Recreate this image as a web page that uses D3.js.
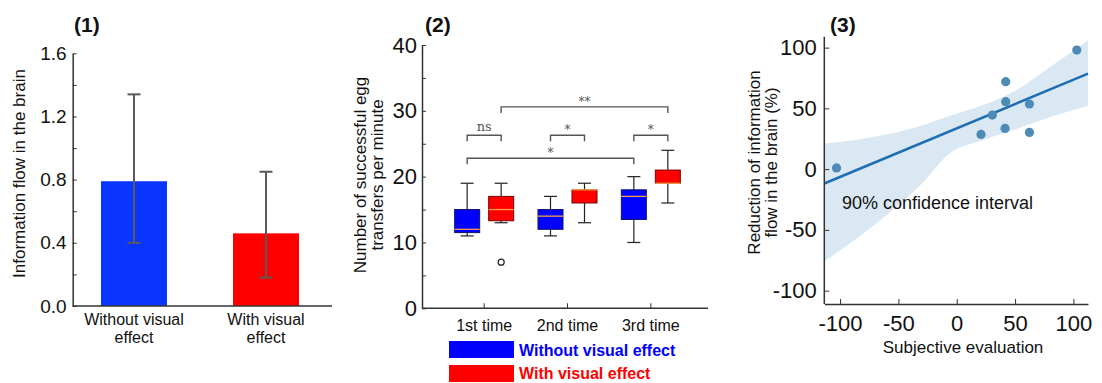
<!DOCTYPE html>
<html>
<head>
<meta charset="utf-8">
<script src="https://cdn.jsdelivr.net/npm/d3@7"></script>
<style>
  body { margin: 0; background: #fff; }
  svg { display: block; font-family: "Liberation Sans", Arial, sans-serif; }
</style>
</head>
<body>
<script>
// ---- panel (1) data
const barCats = ["Without visual effect", "With visual effect"];
const barMeans = [0.79, 0.46];
const barLow = [0.40, 0.18];
const barHigh = [1.34, 0.85];
const barColors = ["#0a35ff", "#ff0000"];
const barTicks = [0, 0.2, 0.4, 0.6, 0.8, 1.0, 1.2, 1.4, 1.6];

// ---- panel (2) data
const groups = ["1st time", "2nd time", "3rd time"];
const seriesNames = ["Without visual effect", "With visual effect"];
const seriesColors = ["#0000ff", "#ff0000"];
// [min, q1, median, q3, max] per group, per series
const boxWithout = [[11, 11.5, 12, 15, 19], [11, 12, 14, 15, 17], [10, 13.5, 17, 18, 20]];
const boxWith = [[13, 13.3, 15, 17, 19], [13, 16, 18, 18, 19], [16, 19, 19, 21, 24]];
const outliers = [{ g: 0, s: 1, v: 7 }];
const boxTicks = [0, 5, 10, 15, 20, 25, 30, 35, 40];
const brackets = [
  { a: [0, 0], b: [0, 1], level: 26.3, label: "ns" },
  { a: [1, 0], b: [1, 1], level: 26.3, label: "*" },
  { a: [2, 0], b: [2, 1], level: 26.3, label: "*" },
  { a: [0, 0], b: [2, 0], level: 22.8, label: "*" },
  { a: [0, 1], b: [2, 1], level: 30.6, label: "**" }
];

// ---- panel (3) data
const evalX = [-103, 20.8, 30.5, 42, 42, 41.4, 62.3, 62.3, 102.9];
const reductionY = [1, 28.6, 44.5, 72, 55.5, 33.5, 53.6, 30.2, 98];
const fitSlope = 0.40;
const fitIntercept = 33.6;
const bandX = [-113.5, -87, -58, -30, -6, 23, 51, 80, 112.5];
const bandLo = [-76, -58, -36, -12, 13, 24, 33, 43, 52];
const bandHi = [21, 24, 29, 36, 44, 53, 65, 84, 106];
const scatTicks = [-100, -50, 0, 50, 100];

const svg = d3.select("body").append("svg")
  .attr("width", 1102)
  .attr("height", 383);

const axisColor = "#333";

function styleAxis(g, size) {
  g.select(".domain").attr("stroke", axisColor).attr("stroke-width", 1.5);
  g.selectAll(".tick line").attr("stroke", axisColor).attr("stroke-width", 1);
  g.selectAll(".tick text")
    .attr("fill", "#111")
    .attr("font-size", size)
    .attr("font-family", "Liberation Sans, Arial, sans-serif");
}

function panelTitle(x, txt) {
  svg.append("text")
    .attr("x", x).attr("y", 32)
    .attr("font-size", 21).attr("font-weight", "bold")
    .attr("fill", "#111")
    .text(txt);
}

function rotatedLabel(tx, ty, lines, size, gap) {
  svg.append("text")
    .attr("transform", `translate(${tx},${ty}) rotate(-90)`)
    .attr("text-anchor", "middle").attr("font-size", size).attr("fill", "#111")
    .selectAll("tspan")
    .data(lines)
    .enter().append("tspan")
    .attr("x", 0).attr("dy", (d, i) => i === 0 ? 0 : gap)
    .text(d => d);
}

// ================= panel (1) =================
{
  const y = d3.scaleLinear().domain([0, 1.6]).range([306, 53.3]);
  const x = d3.scaleBand().domain(barCats).range([68, 332])
    .paddingInner(0.5).paddingOuter(0.25);
  const left = 72.7;

  svg.selectAll("rect.bar")
    .data(barCats)
    .enter().append("rect")
    .attr("class", "bar")
    .attr("x", d => x(d))
    .attr("width", x.bandwidth())
    .attr("y", (d, i) => y(barMeans[i]))
    .attr("height", (d, i) => y(0) - y(barMeans[i]))
    .attr("fill", (d, i) => barColors[i]);

  const err = svg.append("g").attr("stroke", "#5a5a5a").attr("stroke-width", 2);
  barCats.forEach((c, i) => {
    const cx = x(c) + x.bandwidth() / 2;
    err.append("line").attr("x1", cx).attr("x2", cx).attr("y1", y(barLow[i])).attr("y2", y(barHigh[i]));
    [barLow[i], barHigh[i]].forEach(v => {
      err.append("line").attr("x1", cx - 6.5).attr("x2", cx + 6.5).attr("y1", y(v)).attr("y2", y(v));
    });
  });

  const yAxis = d3.axisLeft(y)
    .tickValues(barTicks)
    .tickSizeInner(-4).tickSizeOuter(0).tickPadding(6)
    .tickFormat(d => (Math.round(d * 10) % 4 === 0) ? d3.format(".1f")(d) : "");
  const gy = svg.append("g").attr("transform", `translate(${left},0)`).call(yAxis);
  styleAxis(gy, 19);

  svg.append("line")
    .attr("x1", left).attr("x2", 332)
    .attr("y1", y(0)).attr("y2", y(0))
    .attr("stroke", axisColor).attr("stroke-width", 1.5);

  barCats.forEach(c => {
    const words = c.split(" ");
    const cx = x(c) + x.bandwidth() / 2;
    const t = svg.append("text")
      .attr("x", cx).attr("y", 325)
      .attr("text-anchor", "middle").attr("font-size", 16).attr("fill", "#111");
    t.append("tspan").attr("x", cx).text(words.slice(0, 2).join(" "));
    t.append("tspan").attr("x", cx).attr("dy", 18).text(words.slice(2).join(" "));
  });

  rotatedLabel(24.5, 173.5, ["Information flow in the brain"], 17, 0);
  panelTitle(74, "(1)");
}

// ================= panel (2) =================
{
  const y = d3.scaleLinear().domain([0, 40]).range([308.3, 45]);
  const x = d3.scaleBand().domain(groups).range([442.5, 692.5]);
  const sx = d3.scalePoint().domain(seriesNames).range([-17, 17]);
  const left = 422;
  const boxW = 25;
  const boxData = [boxWithout, boxWith];
  const cxOf = (g, s) => x(groups[g]) + x.bandwidth() / 2 + sx(seriesNames[s]);

  const yAxis = d3.axisLeft(y)
    .tickValues(boxTicks)
    .tickSizeInner(-4).tickSizeOuter(0).tickPadding(5)
    .tickFormat(d => d % 10 === 0 ? d : "");
  const gy = svg.append("g").attr("transform", `translate(${left},0)`).call(yAxis);
  styleAxis(gy, 22);

  const xAxis = d3.axisBottom(x).tickSizeInner(-5).tickSizeOuter(0).tickPadding(11);
  const gx = svg.append("g").attr("transform", `translate(0,${y(0)})`).call(xAxis);
  styleAxis(gx, 16);
  gx.select(".domain").remove();
  svg.append("line")
    .attr("x1", left).attr("x2", 708)
    .attr("y1", y(0)).attr("y2", y(0))
    .attr("stroke", axisColor).attr("stroke-width", 1.5);

  // boxes
  const boxes = svg.append("g");
  boxData.forEach((sData, s) => {
    sData.forEach((b, g) => {
      const cx = cxOf(g, s);
      const [mn, q1, md, q3, mx] = b;
      const w = boxes.append("g").attr("stroke", "#222").attr("stroke-width", 1.2);
      w.append("line").attr("x1", cx).attr("x2", cx).attr("y1", y(mx)).attr("y2", y(q3));
      w.append("line").attr("x1", cx).attr("x2", cx).attr("y1", y(q1)).attr("y2", y(mn));
      w.append("line").attr("x1", cx - 6.5).attr("x2", cx + 6.5).attr("y1", y(mx)).attr("y2", y(mx));
      w.append("line").attr("x1", cx - 6.5).attr("x2", cx + 6.5).attr("y1", y(mn)).attr("y2", y(mn));
      boxes.append("rect")
        .attr("x", cx - boxW / 2).attr("width", boxW)
        .attr("y", y(q3)).attr("height", Math.max(y(q1) - y(q3), 1))
        .attr("fill", seriesColors[s])
        .attr("stroke", s === 0 ? "#10106a" : "#7a0000").attr("stroke-width", 1);
      boxes.append("line")
        .attr("x1", cx - boxW / 2).attr("x2", cx + boxW / 2)
        .attr("y1", y(md)).attr("y2", y(md))
        .attr("stroke", "#f5a044").attr("stroke-width", 1.3);
    });
  });

  svg.selectAll("circle.outlier")
    .data(outliers)
    .enter().append("circle")
    .attr("class", "outlier")
    .attr("cx", d => cxOf(d.g, d.s))
    .attr("cy", d => y(d.v))
    .attr("r", 3)
    .attr("fill", "none").attr("stroke", "#222").attr("stroke-width", 1.2);

  // significance brackets
  const br = svg.append("g");
  brackets.forEach(d => {
    const x1 = cxOf(d.a[0], d.a[1]);
    const x2 = cxOf(d.b[0], d.b[1]);
    const yl = y(d.level);
    br.append("path")
      .attr("d", `M${x1},${yl + 6}V${yl}H${x2}V${yl + 6}`)
      .attr("fill", "none").attr("stroke", "#555").attr("stroke-width", 1.4);
    br.append("text")
      .attr("x", (x1 + x2) / 2).attr("y", d.label === "ns" ? yl - 4 : yl - 1)
      .attr("text-anchor", "middle")
      .attr("font-family", "DejaVu Serif, serif")
      .attr("font-size", d.label === "ns" ? 13 : 12)
      .attr("fill", "#555")
      .text(d.label);
  });

  rotatedLabel(366, 175, ["Number of successful egg", "transfers per minute"], 17, 17);

  // legend
  const lg = svg.append("g");
  seriesNames.forEach((n, i) => {
    lg.append("rect")
      .attr("x", 449).attr("y", 341 + i * 24)
      .attr("width", 65).attr("height", 17)
      .attr("fill", seriesColors[i]);
    lg.append("text")
      .attr("x", 519).attr("y", 356 + i * 23)
      .attr("font-size", 16).attr("font-weight", "bold")
      .attr("fill", seriesColors[i])
      .text(n);
  });

  panelTitle(425, "(2)");
}

// ================= panel (3) =================
{
  const x = d3.scaleLinear().domain([-113.5, 112.5]).range([824.3, 1088]);
  const y = d3.scaleLinear().domain([-111, 109]).range([304, 36.7]);

  const area = d3.area()
    .x((d, i) => x(bandX[i]))
    .y0((d, i) => y(bandLo[i]))
    .y1((d, i) => y(bandHi[i]))
    .curve(d3.curveMonotoneX);
  svg.append("path")
    .datum(bandX)
    .attr("d", area)
    .attr("fill", "#1f77b4").attr("fill-opacity", 0.17);

  const xd = x.domain();
  svg.append("line")
    .attr("x1", x(xd[0])).attr("x2", x(xd[1]))
    .attr("y1", y(fitIntercept + fitSlope * xd[0]))
    .attr("y2", y(fitIntercept + fitSlope * xd[1]))
    .attr("stroke", "#1f6db3").attr("stroke-width", 2.5);

  svg.selectAll("circle.pt")
    .data(evalX)
    .enter().append("circle")
    .attr("class", "pt")
    .attr("cx", d => x(d))
    .attr("cy", (d, i) => y(reductionY[i]))
    .attr("r", 4.6)
    .attr("fill", "#4d8bb6");

  const yAxis = d3.axisLeft(y).tickValues(scatTicks)
    .tickSizeInner(-5).tickSizeOuter(0).tickPadding(7.5)
    .tickFormat(d => String(d));
  const gy = svg.append("g").attr("transform", `translate(${x(xd[0])},0)`).call(yAxis);
  styleAxis(gy, 22);
  gy.select(".domain").attr("d", `M0,${y(-111)}V${y(109)}`);

  const xAxis = d3.axisBottom(x).tickValues(scatTicks)
    .tickSizeInner(-5).tickSizeOuter(0).tickPadding(11)
    .tickFormat(d => String(d));
  const gx = svg.append("g").attr("transform", `translate(0,${y(-111)})`).call(xAxis);
  styleAxis(gx, 22);

  svg.append("text")
    .attr("x", 842).attr("y", 209)
    .attr("font-size", 18).attr("fill", "#111")
    .text("90% confidence interval");

  svg.append("text")
    .attr("x", 963).attr("y", 353)
    .attr("text-anchor", "middle").attr("font-size", 17).attr("fill", "#111")
    .text("Subjective evaluation");

  rotatedLabel(760, 162.5, ["Reduction of information", "flow in the brain (%)"], 17, 17);
  panelTitle(830, "(3)");
}
</script>
</body>
</html>
